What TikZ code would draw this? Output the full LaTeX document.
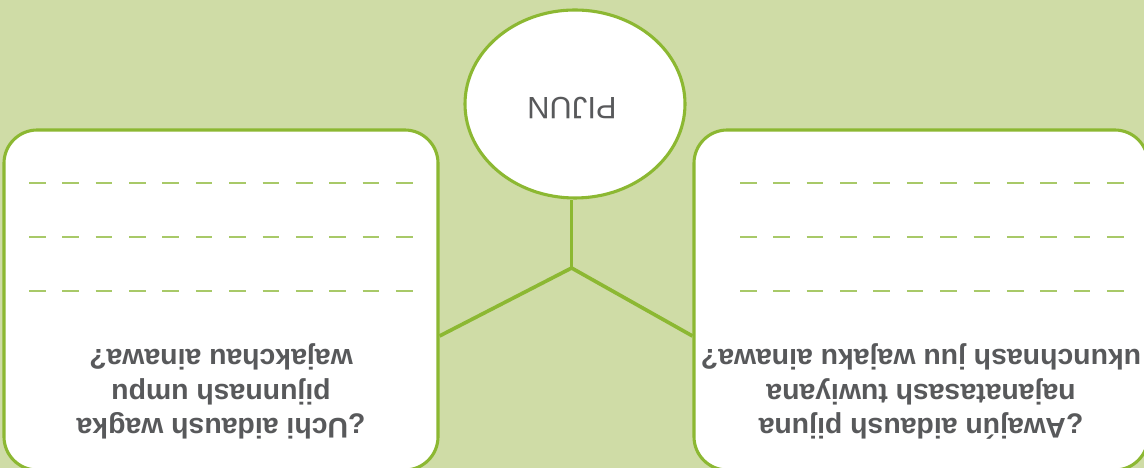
\documentclass[tikz,border=0pt]{standalone}
\usepackage{fontspec}
\setmainfont{Liberation Sans}
\usetikzlibrary{shapes.geometric}

\definecolor{meadow}{HTML}{CFDCA6}
\definecolor{leaf}{HTML}{8CB832}
\definecolor{sprout}{HTML}{A8C968}
\definecolor{slate}{HTML}{58595B}

\tikzset{
  card/.style={draw=leaf, line width=2.2pt, fill=white, rounded corners=0.83cm, minimum height=8.5cm},
  question/.style={rotate=180, align=center, text=slate, font=\fontsize{20.2}{24.5}\selectfont\bfseries},
  writeline/.style={draw=sprout, line width=1.4pt, dash pattern=on 0.417cm off 0.417cm},
  branch/.style={draw=leaf, line width=2.6pt},
}

\begin{document}
\begin{tikzpicture}
        % Background
        \fill[meadow] (0,0) rectangle (28.6,11.7);
        \useasboundingbox (0,0) rectangle (28.6,11.7);

        % The two answer cards
        \node[card, minimum width=10.85cm] (leftcard) at (5.525,4.2) {};
        \node[card, minimum width=11.35cm] (rightcard) at (23.025,4.2) {};

        % Lines to write on
        \foreach \y in {7.125,5.775,4.425} {
            \draw[writeline] (0.725,\y) -- (10.325,\y);
            \draw[writeline] (18.5,\y) -- (28.1,\y);
        }

        % The questions, printed upside down
        \node[question] (leftq) at ([yshift=2cm]leftcard.south) {¿Uchi aidaush wagka\\pijunnash umpu\\wajakchau ainawa?};
        \node[question] (rightq) at ([yshift=2cm]rightcard.south) {¿Awajún aidaush pijuna\\najanatasash tuwiyana\\ukunchnash juu wajaku ainawa?};

        % The title in the middle
        \node[ellipse, draw=leaf, line width=2.2pt, fill=white, minimum width=5.5cm, minimum height=4.7cm] (pijun) at (14.375,9.1) {};
        \node[rotate=180, text=slate, font=\fontsize{22}{26}\selectfont] (pijunlabel) at (14.3,9.0) {PIJUN};

        % Connectors
        \coordinate (hub) at (14.29,5.0);
        \draw[branch] (hub) -- (hub |- pijun.south);
        \draw[branch] (hub) -- ([yshift=-0.9cm]leftcard.east);
        \draw[branch] (hub) -- ([yshift=-0.9cm]rightcard.west);
    \end{tikzpicture}
\end{document}
